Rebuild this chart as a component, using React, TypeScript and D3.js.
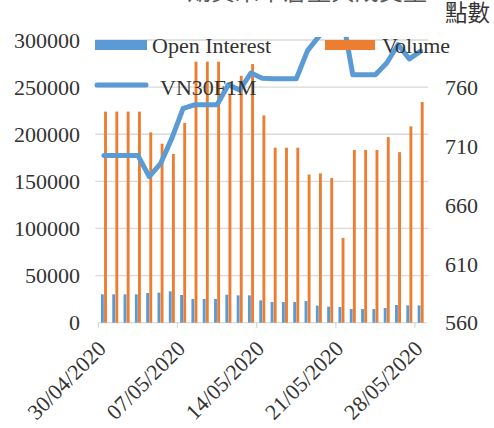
import React from "react";
import * as d3 from "d3";

// daily series, weekends/holidays carry the previous value
const dates = [
  "30/04/2020", "01/05/2020", "02/05/2020", "03/05/2020", "04/05/2020",
  "05/05/2020", "06/05/2020", "07/05/2020", "08/05/2020", "09/05/2020",
  "10/05/2020", "11/05/2020", "12/05/2020", "13/05/2020", "14/05/2020",
  "15/05/2020", "16/05/2020", "17/05/2020", "18/05/2020", "19/05/2020",
  "20/05/2020", "21/05/2020", "22/05/2020", "23/05/2020", "24/05/2020",
  "25/05/2020", "26/05/2020", "27/05/2020", "28/05/2020",
];
const openInterest = [
  30100, 30100, 30100, 30100, 31500, 31900, 33300, 29400, 25200, 25200,
  25200, 29700, 29000, 29000, 23700, 22000, 22000, 22000, 23000, 18100,
  17000, 16700, 14500, 14500, 14500, 15600, 18800, 18400, 18400,
];
const volume = [
  224000, 224000, 224000, 224000, 202000, 190000, 179000, 212000, 277000, 277000,
  277000, 243000, 262000, 274500, 220000, 185700, 185700, 185700, 157300, 158500,
  153500, 90000, 183300, 183300, 183300, 197000, 181000, 208400, 234200,
];
const vn30f1m = [
  702, 702, 702, 702, 684, 695, 716.5, 742, 745, 745,
  745, 762, 757.5, 772, 767.5, 767, 767, 767, 791, 803,
  815, 825, 770.5, 770.5, 770.5, 780.5, 796, 784, 790.5,
];
const leftTicks = [0, 50000, 100000, 150000, 200000, 250000, 300000];
const rightTicks = [560, 610, 660, 710, 760];
const dateTicks = ["30/04/2020", "07/05/2020", "14/05/2020", "21/05/2020", "28/05/2020"];

const W = 494;
const H = 428;
const left = 98.3;
const right = 426.3;
const top = 40;
const bottom = 322.7;

const BLUE = "#5b9bd5";
const ORANGE = "#ed7d31";
const GRID = "#d9d9d9";
const TEXT = "#333";
const serif = "'Liberation Serif', 'Times New Roman', serif";
const cjk = "'Noto Sans CJK TC', 'Noto Sans CJK SC', sans-serif";

export default function App() {
  const x = d3.scaleBand<string>().domain(dates).range([left, right])
    .paddingInner(0.47).paddingOuter(0.235);
  const bw = x.bandwidth();
  const step = x.step();
  const inner = d3.scaleBand<string>().domain(["oi", "vol"]).range([0, bw]).paddingInner(0.08);
  const yL = d3.scaleLinear().domain([0, 300000]).range([bottom, top]);
  const yR = d3.scaleLinear().domain([560, 800]).range([bottom, top]);

  const dayStart = (d: string) => (x(d) as number) + bw / 2 - step / 2;

  const line = d3.line<number>()
    .x((_, i) => (x(dates[i]) as number) + bw / 2)
    .y((d) => yR(d));

  return (
    <svg width={W} height={H} style={{ position: "absolute", left: 0, top: 0, display: "block", background: "#fff" }}>
      <defs>
        <clipPath id="plotClip">
          <rect x={left - 5} y={top - 3} width={right - left + 10} height={bottom - top + 3} />
        </clipPath>
      </defs>

      {/* title, mostly cut off at the top */}
      <text x={307} y={-0.5} textAnchor="middle" fontFamily={cjk} fontSize={24} fill="#595959">
        期貨未平倉量與成交量
      </text>
      <text x={445} y={20.5} fontFamily={cjk} fontSize={22.5} fill={TEXT}>點數</text>

      {/* gridlines */}
      {leftTicks.slice(1).map((t) => (
        <line key={t} x1={left - 3} x2={right + 2} y1={yL(t)} y2={yL(t)} stroke={GRID} strokeWidth={1.3} />
      ))}
      <line x1={left} x2={right} y1={bottom} y2={bottom} stroke={GRID} strokeWidth={1.3} />
      {dateTicks.map((d) => (
        <line key={d} x1={dayStart(d)} x2={dayStart(d)} y1={bottom} y2={bottom + 5} stroke={GRID} strokeWidth={1.3} />
      ))}

      {/* bars */}
      {dates.map((d, i) => (
        <g key={d}>
          <rect x={(x(d) as number) + (inner("oi") as number)} y={yL(openInterest[i])}
            width={inner.bandwidth()} height={bottom - yL(openInterest[i])} fill={BLUE} />
          <rect x={(x(d) as number) + (inner("vol") as number)} y={yL(volume[i])}
            width={inner.bandwidth()} height={bottom - yL(volume[i])} fill={ORANGE} />
        </g>
      ))}

      {/* VN30F1M line on the right axis */}
      <path d={line(vn30f1m) || ""} fill="none" stroke={BLUE} strokeWidth={5}
        strokeLinejoin="round" strokeLinecap="round" clipPath="url(#plotClip)" />

      {/* left axis labels */}
      {leftTicks.map((t) => (
        <text key={t} x={80} y={yL(t)} dy="0.35em" textAnchor="end" fontFamily={serif} fontSize={22} fill={TEXT}>
          {t}
        </text>
      ))}
      {/* right axis labels */}
      {rightTicks.map((t) => (
        <text key={t} x={445} y={yR(t)} dy="0.35em" fontFamily={serif} fontSize={22} fill={TEXT}>
          {t}
        </text>
      ))}
      {/* date labels */}
      {dateTicks.map((d) => (
        <text key={d} transform={`translate(${dayStart(d) + 9},350) rotate(-45)`} textAnchor="end"
          fontFamily={serif} fontSize={22} fill={TEXT}>
          {d}
        </text>
      ))}

      {/* legend */}
      <rect x={95} y={40} width={52} height={10} fill={BLUE} />
      <text x={152} y={53} fontFamily={serif} fontSize={22} fill={TEXT}>Open Interest</text>
      <rect x={325} y={40} width={50} height={10} fill={ORANGE} />
      <text x={382} y={53} fontFamily={serif} fontSize={22} fill={TEXT}>Volume</text>
      <line x1={97} x2={146} y1={85} y2={85} stroke={BLUE} strokeWidth={5} strokeLinecap="round" />
      <text x={160} y={95} fontFamily={serif} fontSize={22} fill={TEXT}>VN30F1M</text>
    </svg>
  );
}
